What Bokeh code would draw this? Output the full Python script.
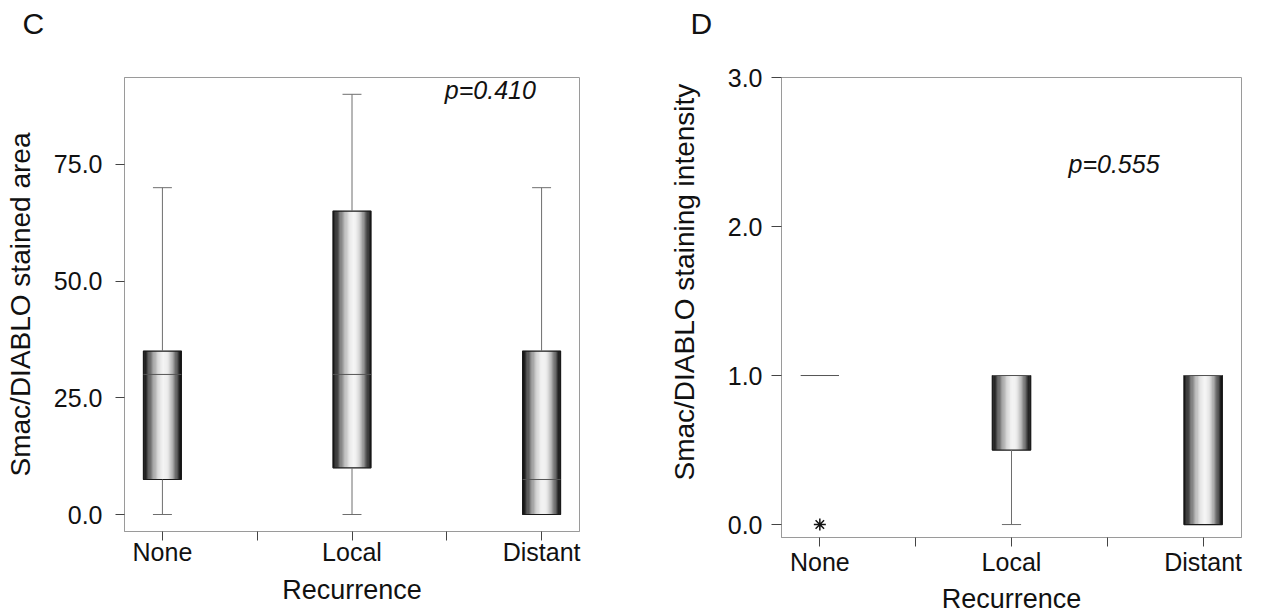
from bokeh.plotting import figure
from bokeh.models import Range1d, FixedTicker, NumeralTickFormatter, Label, Title
from bokeh.layouts import row
from bokeh.embed import file_html
from bokeh.resources import INLINE

# ---------------- data ----------------
categories = ["None", "Local", "Distant"]

# Panel C: Smac/DIABLO stained area
c_min = [0.0, 0.0, 0.0]
c_q1 = [7.5, 10.0, 0.0]
c_med = [30.0, 30.0, 7.5]
c_q3 = [35.0, 65.0, 35.0]
c_max = [70.0, 90.0, 70.0]
c_outlier_cat = []
c_outlier_val = []
c_yticks = [0, 25, 50, 75]
c_pvalue = "p=0.410"

# Panel D: Smac/DIABLO staining intensity
d_min = [1.0, 0.0, 0.0]
d_q1 = [1.0, 0.5, 0.0]
d_med = [1.0, 1.0, 1.0]
d_q3 = [1.0, 1.0, 1.0]
d_max = [1.0, 1.0, 1.0]
d_outlier_cat = ["None"]
d_outlier_val = [0.0]
d_yticks = [0, 1, 2, 3]
d_pvalue = "p=0.555"

FONT = "Liberation Sans"
BOX_W = 0.2
CAP_W = 0.1
N_STRIPES = 30


def shade(t):
    peak = 0.56
    if t < peak:
        l = 1 - ((peak - t) / peak) ** 2
    else:
        l = 1 - ((t - peak) / (1 - peak)) ** 2
    l = max(0.0, l) ** 1.5
    g = int(round(16 + 228 * l))
    return "#%02x%02x%02x" % (g, g, g)


def make_panel(ylabel, yrange, yticks, vmin, q1, med, q3, vmax,
               out_cat, out_val, width, height, borders):
    left, right, top, bottom = borders
    p = figure(width=width, height=height, output_backend="svg", toolbar_location=None,
               x_range=Range1d(-0.2, 2.2), y_range=Range1d(*yrange),
               min_border_left=left, min_border_right=right,
               min_border_top=top, min_border_bottom=bottom)
    p.xgrid.grid_line_color = None
    p.ygrid.grid_line_color = None
    p.outline_line_color = "#9a9a9a"
    p.outline_line_width = 1
    p.background_fill_color = "white"
    p.border_fill_color = "white"

    xs = list(range(len(categories)))

    # gradient-filled boxes drawn as thin vertical stripes
    sx, stop, sbot, scol = [], [], [], []
    for i, x in enumerate(xs):
        if q3[i] <= q1[i]:
            continue
        for k in range(N_STRIPES):
            t = (k + 0.5) / N_STRIPES
            sx.append(x - BOX_W / 2 + t * BOX_W)
            stop.append(q3[i])
            sbot.append(q1[i])
            scol.append(shade(t))
    p.vbar(x=sx, width=BOX_W / N_STRIPES * 1.15, top=stop, bottom=sbot,
           fill_color=scol, line_color=scol, line_width=0.3)

    # box outlines
    bl, br, bt, bb = [], [], [], []
    for i, x in enumerate(xs):
        if q3[i] > q1[i]:
            bl.append(x - BOX_W / 2); br.append(x + BOX_W / 2)
            bt.append(q3[i]); bb.append(q1[i])
    p.quad(left=bl, right=br, top=bt, bottom=bb, fill_color=None,
           line_color="#1a1a1a", line_width=1.2)

    # medians
    p.segment(x0=[x - BOX_W / 2 for x in xs], x1=[x + BOX_W / 2 for x in xs],
              y0=med, y1=med, line_color="#555555", line_width=1)

    # whiskers
    wx0, wy0, wy1 = [], [], []
    cx0, cx1, cy = [], [], []
    for i, x in enumerate(xs):
        if vmax[i] > q3[i]:
            wx0.append(x); wy0.append(q3[i]); wy1.append(vmax[i])
            cx0.append(x - CAP_W / 2); cx1.append(x + CAP_W / 2); cy.append(vmax[i])
        if vmin[i] < q1[i]:
            wx0.append(x); wy0.append(q1[i]); wy1.append(vmin[i])
            cx0.append(x - CAP_W / 2); cx1.append(x + CAP_W / 2); cy.append(vmin[i])
    p.segment(x0=wx0, x1=wx0, y0=wy0, y1=wy1, line_color="#6e6e6e", line_width=1)
    p.segment(x0=cx0, x1=cx1, y0=cy, y1=cy, line_color="#6e6e6e", line_width=1)

    # outliers
    if out_cat:
        ox = [categories.index(c) for c in out_cat]
        p.scatter(x=ox, y=out_val, marker="asterisk", size=12,
                  line_color="#111111", line_width=1.5)

    # axes
    xa = p.xaxis[0]
    xa.ticker = FixedTicker(ticks=xs, minor_ticks=[0.5, 1.5])
    xa.major_label_overrides = {i: c for i, c in enumerate(categories)}
    xa.axis_label = "Recurrence"
    ya = p.yaxis[0]
    ya.ticker = FixedTicker(ticks=yticks, minor_ticks=[])
    ya.formatter = NumeralTickFormatter(format="0.0")
    if ylabel:
        ya.axis_label = ylabel
    for ax in (xa, ya):
        ax.axis_line_color = "#9a9a9a"
        ax.major_tick_line_color = "#444444"
        ax.minor_tick_line_color = "#444444"
        ax.major_tick_in = 0
        ax.major_tick_out = 9
        ax.minor_tick_in = 0
        ax.minor_tick_out = 9
        ax.major_label_text_font = FONT
        ax.major_label_text_font_size = "25px"
        ax.major_label_text_color = "#111111"
        ax.axis_label_text_font = FONT
        ax.axis_label_text_font_size = "27px"
        ax.axis_label_text_font_style = "normal"
        ax.axis_label_text_color = "#111111"
    return p, xa, ya


pC, xaC, yaC = make_panel("Smac/DIABLO stained area", (-3.64, 93.6), c_yticks,
                          c_min, c_q1, c_med, c_q3, c_max, c_outlier_cat, c_outlier_val,
                          640, 610, (124, 61, 77, 79))
pD, xaD, yaD = make_panel(None, (-0.087, 3.0), d_yticks,
                          d_min, d_q1, d_med, d_q3, d_max, d_outlier_cat, d_outlier_val,
                          623, 616, (141, 22, 77, 79))

# axis spacing
yaC.axis_label_text_font_size = "28px"
yaC.major_label_standoff = 13
yaC.axis_label_standoff = 15
xaC.major_label_standoff = -3
xaC.axis_label_standoff = 6
yaD.major_tick_out = 10
yaD.major_label_standoff = 9
xaD.major_label_standoff = 1
xaD.axis_label_standoff = 5

# D y-axis title, placed above centre as in the original
pD.add_layout(Title(text="Smac/DIABLO staining intensity", align="left", offset=57,
                    standoff=50, text_font=FONT, text_font_size="28px",
                    text_font_style="normal", text_color="#111111"), "left")

# p-values
pC.add_layout(Label(x=1.73, y=90.9, text=c_pvalue, text_font=FONT, text_font_size="25px",
                    text_font_style="italic", text_align="center", text_baseline="middle",
                    text_color="#111111"))
pD.add_layout(Label(x=1.535, y=2.42, text=d_pvalue, text_font=FONT, text_font_size="25px",
                    text_font_style="italic", text_align="center", text_baseline="middle",
                    text_color="#111111"))

# panel letters
for p, letter, off in ((pC, "C", -102), (pD, "D", -91)):
    p.title.text = letter
    p.title.align = "left"
    p.title.offset = off
    p.title.standoff = 0
    p.title.padding = dict(left=0, right=0, top=0, bottom=38)
    p.title.text_font = FONT
    p.title.text_font_size = "30px"
    p.title.text_font_style = "normal"
    p.title.text_color = "#111111"

layout = row(pC, pD)
open("out.html", "w").write(file_html(layout, INLINE))
